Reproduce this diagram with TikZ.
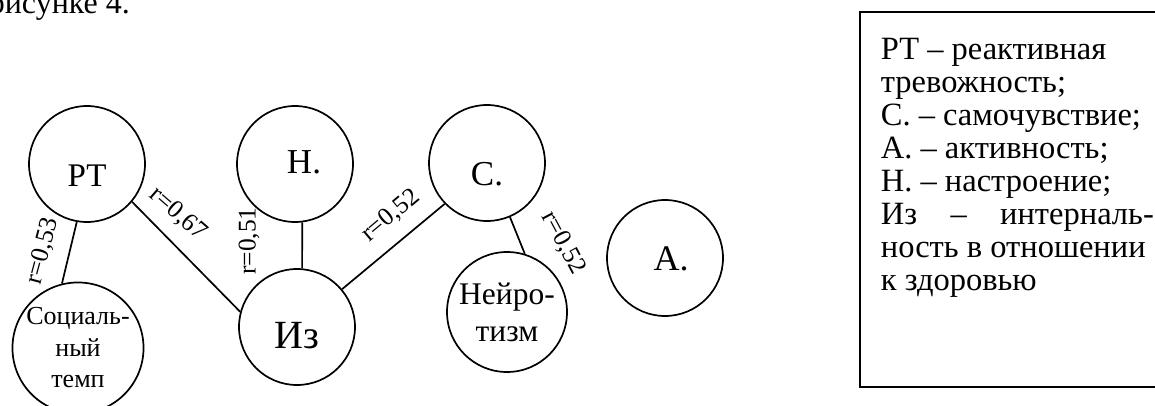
\documentclass[tikz,border=0pt]{standalone}
\usepackage{fontspec}
\setmainfont{Liberation Serif}
\begin{document}
\begin{tikzpicture}[x=1pt,y=-1pt,line width=1.7pt,
  bub/.style={draw, circle, inner sep=0pt, minimum size=#1},
  elab/.style={font=\fontsize{25.5}{30}\selectfont, inner sep=0pt}]
\useasboundingbox (0,0) rectangle (1155,406);
\clip (0,0) rectangle (1155,406);
% top text fragment
\node[anchor=base west, inner sep=0pt, font=\fontsize{32}{38}\selectfont] (toptext) at (-12,13.5) {рисунке 4.};
% circles
\node[bub=116, font=\fontsize{33}{38}\selectfont, text height=44pt, text depth=0pt] (rt) at (87,164) {РТ};
\node[bub=116, font=\fontsize{35}{40}\selectfont, text height=19pt, text depth=0pt] (n) at (295,164) {\hspace*{18pt}Н.};
\node[bub=116, font=\fontsize{35}{40}\selectfont, text height=45pt, text depth=0pt] (c) at (487,163) {С.};
\node[bub=116, font=\fontsize{36}{40}\selectfont, text height=24pt, text depth=0pt] (a) at (665,258) {\hspace*{12pt}А.};
\node[bub=116, font=\fontsize{40}{46}\selectfont, text height=43pt, text depth=0pt] (iz) at (297,327) {Из};
\node[bub=130, align=center, font=\fontsize{26}{31.5}\selectfont] (soc) at (78,348) {Социаль-\\ный\\темп};
\node[bub=120, align=center, font=\fontsize{31.5}{37}\selectfont] (nr) at (507,312) {Нейро-\\тизм};
% connectors
\draw (rt.260) -- (soc.104);
\draw (rt.-40) -- (iz.165);
\draw (n.-83) -- (iz.85);
\draw (iz.40) -- (c.-136);
\draw (c.-67) -- (nr.73);
% connector labels
\node[elab, rotate=75] (l1) at (43,251) {r=0,53};
\node[elab, rotate=-41] (l2) at (178,214) {r=0,67};
\node[elab, rotate=90] (l3) at (249,241) {r=0,51};
\node[elab, rotate=40] (l4) at (391,216) {r=0,52};
\node[elab, rotate=-62] (l5) at (563,243) {r=0,52};
% legend
\draw (860,12) rectangle (1175,387);
\node[anchor=north west, inner sep=0pt, align=left, font=\fontsize{32.5}{33}\selectfont] (leg) at (880,37)
 {РТ – реактивная\\тревожность;\\С. – самочувствие;\\А. – активность;\\Н. – настроение;\\\makebox[273pt][s]{Из – интерналь-}\\ность в отношении\\к здоровью};
\end{tikzpicture}
\end{document}
